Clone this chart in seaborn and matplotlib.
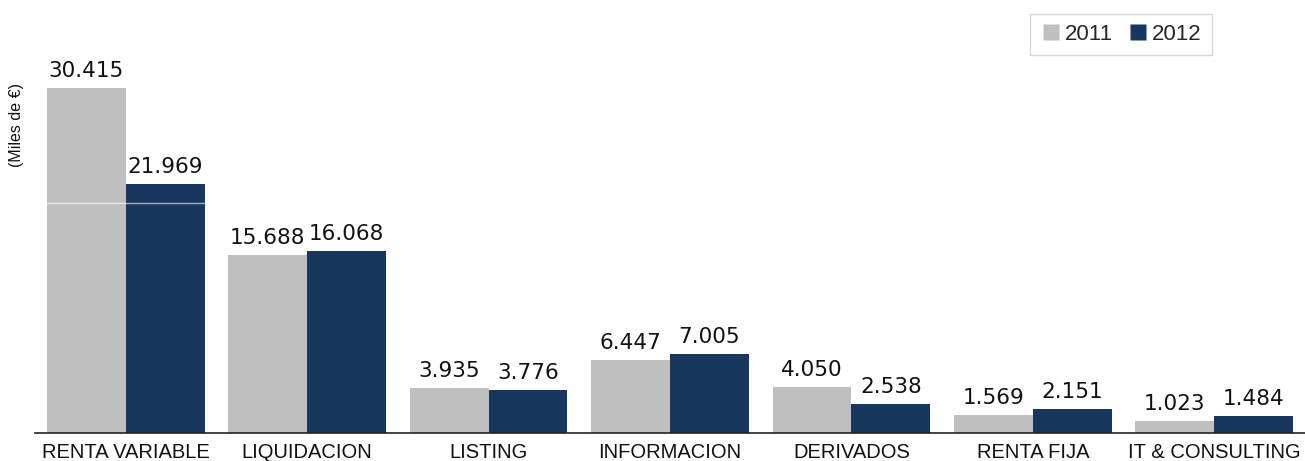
import matplotlib
matplotlib.use("Agg")
import matplotlib.pyplot as plt
import seaborn as sns
import pandas as pd
from matplotlib.lines import Line2D

categories = ["RENTA VARIABLE", "LIQUIDACION", "LISTING", "INFORMACION",
              "DERIVADOS", "RENTA FIJA", "IT & CONSULTING"]
values_2011 = [30415, 15688, 3935, 6447, 4050, 1569, 1023]
values_2012 = [21969, 16068, 3776, 7005, 2538, 2151, 1484]
years = ["2011", "2012"]
colors = {"2011": "#BFBFBF", "2012": "#17375E"}

df = pd.DataFrame({
    "cat": categories * 2,
    "year": [years[0]] * len(categories) + [years[1]] * len(categories),
    "val": values_2011 + values_2012,
})

sns.set_theme(style="white")
plt.rcParams['font.family'] = ['DejaVu Sans']

fig = plt.figure(figsize=(13.05, 4.61), dpi=100)
ax = fig.add_axes([35/1305, 28/461, 1270/1305, 433/461])

sns.barplot(data=df, x="cat", y="val", hue="year", palette=colors,
            order=categories, hue_order=years, width=0.87, saturation=1,
            ax=ax, legend=False, edgecolor="none")

ax.set_xlim(-0.5, len(categories) - 0.5)
ax.set_ylim(0, 38170)

ax.axhline(20300, color="white", lw=1, alpha=0.6, zorder=5)

for cont, vals in zip(ax.containers, [values_2011, values_2012]):
    labels = [f"{v:,}".replace(",", ".") for v in vals]
    ax.bar_label(cont, labels=labels, padding=5, fontsize=15.5,
                 color="#111111", family="DejaVu Sans")

for s in ["top", "right", "left"]:
    ax.spines[s].set_visible(False)
ax.spines["bottom"].set_color("#222222")
ax.spines["bottom"].set_linewidth(1.2)
ax.set_yticks([])
ax.set_xlabel("")
ax.set_ylabel("")

ax.set_xticks(range(len(categories)))
ax.set_xticklabels(categories, family="Liberation Sans", fontsize=14.5, color="#111111")
ax.tick_params(axis="x", which="major", length=0, pad=7)
ax.set_xticks([i - 0.5 for i in range(len(categories) + 1)], minor=True)
ax.tick_params(axis="x", which="minor", length=6, color="#BBBBBB", width=1, direction="out")

fig.text(17/1305, 1 - 125/461, "(Miles de €)", rotation=90, ha="center", va="center",
         family="Liberation Sans", fontsize=11.5, color="#111111")

handles = [Line2D([0], [0], marker="s", linestyle="none", markersize=11,
                  markerfacecolor=colors[y], markeredgecolor="none") for y in years]
leg = fig.legend(handles, years, loc="upper right",
                 bbox_to_anchor=(1223/1305, 1 - 3/461), ncol=2,
                 prop={"family": "Liberation Sans", "size": 16},
                 frameon=True, fancybox=False, handletextpad=0.15,
                 columnspacing=0.6, borderpad=0.45, handlelength=1.0)
leg.get_frame().set_edgecolor("#CCCCCC")
leg.get_frame().set_linewidth(1)

fig.savefig("out.png", dpi=100)
